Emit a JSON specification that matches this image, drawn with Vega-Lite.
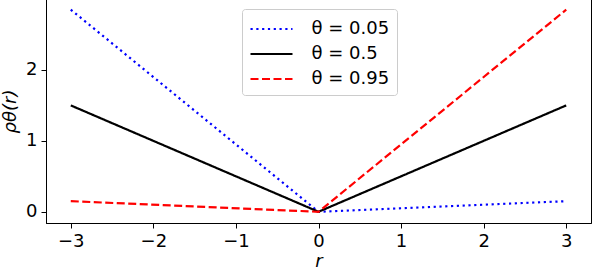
{
  "$schema": "https://vega.github.io/schema/vega-lite/v6.json",
  "width": 545,
  "height": 224,
  "autosize": {"type": "none"},
  "padding": {"left": 46, "top": -1, "right": 1, "bottom": 45},
  "background": "white",
  "config": {
    "view": {"stroke": "black", "strokeWidth": 1},
    "font": "DejaVu Sans",
    "axis": {
      "grid": false,
      "labelFont": "DejaVu Sans",
      "labelFontSize": 18,
      "labelColor": "black",
      "tickColor": "black",
      "domainColor": "black",
      "tickSize": 5,
      "tickWidth": 1,
      "domainWidth": 1,
      "titleFont": "DejaVu Sans",
      "titleFontSize": 18,
      "titleFontWeight": "normal",
      "titleFontStyle": "italic",
      "titleColor": "black"
    },
    "legend": {
      "labelFont": "DejaVu Sans",
      "labelFontSize": 18,
      "labelColor": "black"
    }
  },
  "data": {
    "values": [
      {"r": -3, "rho": 2.85, "theta": "θ = 0.05"},
      {"r": 0, "rho": 0, "theta": "θ = 0.05"},
      {"r": 3, "rho": 0.15, "theta": "θ = 0.05"},
      {"r": -3, "rho": 1.5, "theta": "θ = 0.5"},
      {"r": 0, "rho": 0, "theta": "θ = 0.5"},
      {"r": 3, "rho": 1.5, "theta": "θ = 0.5"},
      {"r": -3, "rho": 0.15, "theta": "θ = 0.95"},
      {"r": 0, "rho": 0, "theta": "θ = 0.95"},
      {"r": 3, "rho": 2.85, "theta": "θ = 0.95"}
    ]
  },
  "mark": {"type": "line", "strokeWidth": 2.2},
  "encoding": {
    "x": {
      "field": "r",
      "type": "quantitative",
      "scale": {"domain": [-3.3, 3.3], "nice": false, "zero": false},
      "axis": {"values": [-3, -2, -1, 0, 1, 2, 3], "format": "d", "labelPadding": 4, "title": "r", "titlePadding": 2}
    },
    "y": {
      "field": "rho",
      "type": "quantitative",
      "scale": {"domain": [-0.158, 3.0], "nice": false, "zero": false},
      "axis": {"values": [0, 1, 2], "format": "d", "labelPadding": 4, "title": "ρθ(r)", "titlePadding": 6}
    },
    "color": {
      "field": "theta",
      "type": "nominal",
      "scale": {"domain": ["θ = 0.05", "θ = 0.5", "θ = 0.95"], "range": ["#0000ff", "#000000", "#ff0000"]},
      "legend": {
        "title": null,
        "orient": "none",
        "legendX": 196,
        "legendY": 10,
        "fillColor": "white",
        "strokeColor": "#cccccc",
        "cornerRadius": 3,
        "padding": 7,
        "symbolType": "M-1.765,0H1.765",
        "symbolSize": 566,
        "symbolStrokeWidth": 2.2,
        "symbolOffset": 9.5,
        "labelOffset": 27,
        "rowPadding": 3
      }
    },
    "strokeDash": {
      "field": "theta",
      "type": "nominal",
      "scale": {"domain": ["θ = 0.05", "θ = 0.5", "θ = 0.95"], "range": [[2.2, 3.6], [1, 0], [8, 3.5]]},
      "legend": null
    }
  }
}
